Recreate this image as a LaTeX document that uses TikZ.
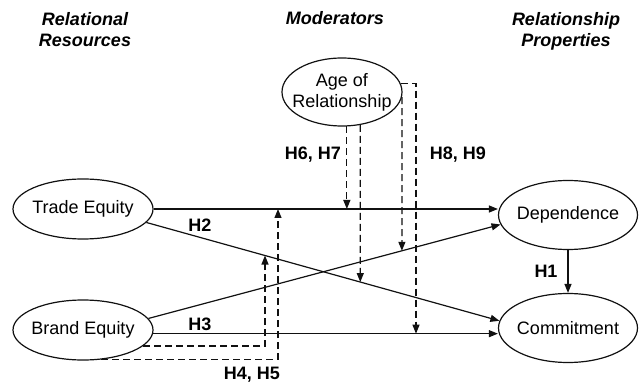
\documentclass[tikz,border=0pt]{standalone}
\usepackage{fontspec}
\setmainfont{Liberation Sans}
\usepackage{tikz}
\usetikzlibrary{arrows.meta,shapes.geometric,intersections}
\definecolor{inkmain}{HTML}{111111}
\tikzset{every node/.append style={font=\fontsize{18}{21}\selectfont}}

\begin{document}
\begin{tikzpicture}[>={Triangle[length=9pt,width=7pt]},x=1pt,y=-1pt,
  construct/.style={draw=inkmain,line width=1.2pt,ellipse,inner xsep=-12pt,
    inner ysep=0pt,minimum width=140pt,minimum height=60pt},
  header/.style={font=\fontsize{18}{21}\selectfont\bfseries\itshape,align=center},
  hyp/.style={font=\fontsize{18}{21}\selectfont\bfseries},
  link/.style={draw=inkmain,line width=1.2pt},
  modline/.style={link,dash pattern=on 7pt off 4pt}]
  \useasboundingbox (0,0) rectangle (640,390);
  % column heads
  \node[header] (hres) at (85,30) {Relational\\Resources};
  \node[header] (hmod) at (335,18) {Moderators};
  \node[header] (hprop) at (566,31) {Relationship\\Properties};
  % constructs
  \node[construct] (te) at (83,209) {Trade Equity};
  \node[construct] (be) at (83,330) {Brand Equity};
  \node[construct,minimum width=139pt,minimum height=69pt] (dep) at (568,215) {Dependence};
  \node[construct,minimum width=139pt,minimum height=69pt] (com) at (568,328) {Commitment};
  \node[construct,align=center,minimum width=120pt,minimum height=68pt] (age) at (342,92) {Age of\\Relationship};
  % main effects
  \draw[link,->] (te.east) -- (te.east -| dep.west);
  \draw[link,->,name path=tecom] (te.-12) -- (com.174);
  \draw[link,->,name path=bedep] (be.10) -- (dep.188);
  \draw[link,->] (be.-3) -- (be.-3 -| com.west);
  \draw[link,->] (dep.south) -- (com.north);
  % moderating effects
  \path[name path=vfour] (be.-15 -| 265,0) -- (te.east -| 265,0);
  \path[name intersections={of=tecom and vfour,by=hfour}];
  \draw[modline,->] (be.-15) -| (hfour);
  \draw[modline,->] (be.-58) -| (278,0 |- te.east);
  \path[name path=vseven] (age.-61) -- ++(0,250);
  \path[name intersections={of=tecom and vseven,by=hseven}];
  \draw[modline,->] (age.-82) -- (age.-82 |- te.east);
  \draw[modline,->] (age.-61) -- (hseven);
  \path[name path=veight] (age.-5) -- ++(0,250);
  \path[name intersections={of=bedep and veight,by=height}];
  \draw[modline,->] (age.-5) -- (height);
  \draw[modline,->] (age.8) -| (416,0 |- be.-3);
  % hypothesis labels
  \node[hyp] (lhone) at (546,271) {H1};
  \node[hyp] (lhtwo) at (200,225) {H2};
  \node[hyp] (lhthree) at (200,324) {H3};
  \node[hyp] (lhfour) at (252,375) {H4, H5};
  \node[hyp] (lhsix) at (313,155) {H6, H7};
  \node[hyp] (lheight) at (458,155) {H8, H9};
\end{tikzpicture}
\end{document}
